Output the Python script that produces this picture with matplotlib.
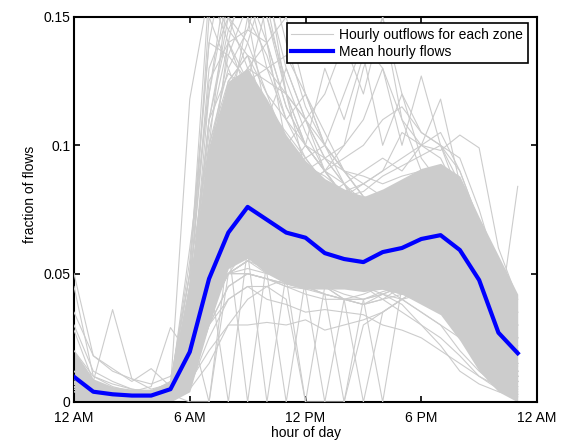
import matplotlib
matplotlib.use('Agg')
import matplotlib.pyplot as plt

plt.rcParams['font.family'] = ['Liberation Sans', 'DejaVu Sans']
plt.rcParams['font.size'] = 10

hours = list(range(24))
tick_hours = [0, 6, 12, 18, 24]
tick_labels = ['12 AM', '6 AM', '12 PM', '6 PM', '12 AM']

# mean hourly flows (blue line)
mean_flow = [0.0098, 0.004, 0.003, 0.0025, 0.0025, 0.005, 0.0195, 0.048,
             0.066, 0.076, 0.071, 0.066, 0.064, 0.058, 0.0557, 0.0545,
             0.0584, 0.060, 0.0635, 0.065, 0.0592, 0.0475, 0.027, 0.019]

# dense part of the grey bundle (hundreds of zones overlapping)
band_low = [0.0, 0.0, 0.0, 0.0, 0.0, 0.0, 0.004, 0.03, 0.052, 0.056, 0.05, 0.046,
            0.044, 0.044, 0.044, 0.043, 0.044, 0.042, 0.038, 0.034, 0.024, 0.012, 0.004, 0.0]
band_high = [0.02, 0.009, 0.006, 0.005, 0.005, 0.008, 0.048, 0.10, 0.125, 0.13, 0.118, 0.104,
             0.094, 0.087, 0.083, 0.08, 0.083, 0.087, 0.091, 0.093, 0.088, 0.072, 0.057, 0.042]

# individual zones that stand out of the bundle
zone_flows = [
    [0.008, 0.004, 0.003, 0.002, 0.002, 0.006, 0.035, 0.12, 0.17, 0.15, 0.11, 0.09, 0.08, 0.07, 0.06, 0.055, 0.05, 0.05, 0.045, 0.04, 0.03, 0.02, 0.012, 0.008],
    [0.012, 0.005, 0.003, 0.003, 0.003, 0.008, 0.05, 0.10, 0.16, 0.19, 0.14, 0.10, 0.085, 0.07, 0.065, 0.06, 0.055, 0.05, 0.045, 0.035, 0.028, 0.02, 0.012, 0.01],
    [0.006, 0.003, 0.002, 0.002, 0.002, 0.004, 0.02, 0.07, 0.12, 0.14, 0.165, 0.12, 0.09, 0.075, 0.07, 0.06, 0.05, 0.045, 0.04, 0.035, 0.025, 0.015, 0.01, 0.006],
    [0.01, 0.004, 0.003, 0.002, 0.002, 0.006, 0.04, 0.15, 0.13, 0.11, 0.1, 0.095, 0.08, 0.075, 0.065, 0.06, 0.055, 0.05, 0.04, 0.035, 0.03, 0.02, 0.015, 0.01],
    [0.008, 0.003, 0.002, 0.002, 0.002, 0.005, 0.118, 0.16, 0.14, 0.12, 0.105, 0.09, 0.08, 0.07, 0.06, 0.05, 0.045, 0.04, 0.035, 0.03, 0.025, 0.02, 0.012, 0.008],
    [0.009, 0.004, 0.003, 0.002, 0.003, 0.006, 0.03, 0.09, 0.125, 0.135, 0.11, 0.13, 0.11, 0.09, 0.08, 0.07, 0.06, 0.055, 0.05, 0.04, 0.03, 0.022, 0.014, 0.01],
    [0.007, 0.003, 0.002, 0.002, 0.002, 0.004, 0.025, 0.08, 0.11, 0.15, 0.135, 0.11, 0.12, 0.10, 0.085, 0.07, 0.065, 0.06, 0.05, 0.045, 0.035, 0.025, 0.015, 0.01],
    [0.01, 0.005, 0.003, 0.003, 0.003, 0.007, 0.03, 0.085, 0.14, 0.125, 0.155, 0.12, 0.1, 0.09, 0.085, 0.075, 0.065, 0.06, 0.055, 0.05, 0.04, 0.03, 0.02, 0.012],
    [0.009, 0.004, 0.003, 0.002, 0.002, 0.005, 0.045, 0.13, 0.15, 0.14, 0.12, 0.1, 0.09, 0.08, 0.07, 0.065, 0.06, 0.058, 0.055, 0.05, 0.04, 0.03, 0.02, 0.012],
    [0.007, 0.003, 0.002, 0.002, 0.002, 0.005, 0.04, 0.11, 0.145, 0.16, 0.13, 0.11, 0.095, 0.085, 0.075, 0.07, 0.065, 0.06, 0.055, 0.05, 0.04, 0.03, 0.018, 0.01],
    [0.008, 0.004, 0.003, 0.002, 0.002, 0.005, 0.035, 0.1, 0.13, 0.145, 0.14, 0.115, 0.1, 0.09, 0.08, 0.075, 0.07, 0.065, 0.06, 0.055, 0.045, 0.035, 0.02, 0.012],
    [0.01, 0.005, 0.003, 0.002, 0.002, 0.006, 0.05, 0.14, 0.135, 0.125, 0.115, 0.105, 0.095, 0.085, 0.078, 0.072, 0.068, 0.065, 0.06, 0.055, 0.045, 0.035, 0.022, 0.014],
    [0.006, 0.003, 0.002, 0.002, 0.002, 0.004, 0.03, 0.095, 0.135, 0.155, 0.15, 0.125, 0.105, 0.09, 0.08, 0.07, 0.065, 0.06, 0.05, 0.045, 0.035, 0.025, 0.015, 0.008],
    [0.008, 0.004, 0.002, 0.002, 0.002, 0.005, 0.03, 0.085, 0.12, 0.13, 0.125, 0.12, 0.11, 0.1, 0.09, 0.085, 0.08, 0.075, 0.07, 0.065, 0.05, 0.04, 0.025, 0.015],
    [0.009, 0.004, 0.003, 0.002, 0.002, 0.005, 0.04, 0.11, 0.128, 0.122, 0.11, 0.1, 0.092, 0.088, 0.082, 0.08, 0.078, 0.08, 0.082, 0.08, 0.07, 0.055, 0.035, 0.02],
    [0.007, 0.003, 0.002, 0.002, 0.002, 0.005, 0.06, 0.12, 0.16, 0.17, 0.15, 0.12, 0.1, 0.09, 0.08, 0.07, 0.06, 0.055, 0.05, 0.045, 0.035, 0.025, 0.015, 0.008],
    [0.008, 0.004, 0.002, 0.002, 0.002, 0.005, 0.025, 0.08, 0.11, 0.125, 0.13, 0.135, 0.12, 0.105, 0.09, 0.08, 0.075, 0.07, 0.065, 0.06, 0.05, 0.04, 0.025, 0.015],
    [0.01, 0.005, 0.003, 0.002, 0.002, 0.006, 0.035, 0.1, 0.125, 0.135, 0.12, 0.11, 0.1, 0.095, 0.09, 0.088, 0.085, 0.088, 0.09, 0.092, 0.08, 0.065, 0.045, 0.03],
    [0.009, 0.004, 0.003, 0.002, 0.002, 0.006, 0.055, 0.14, 0.18, 0.16, 0.14, 0.115, 0.1, 0.09, 0.08, 0.072, 0.065, 0.06, 0.055, 0.05, 0.04, 0.03, 0.018, 0.01],
    [0.008, 0.004, 0.002, 0.002, 0.002, 0.005, 0.045, 0.125, 0.14, 0.175, 0.16, 0.13, 0.11, 0.095, 0.085, 0.075, 0.07, 0.065, 0.06, 0.05, 0.04, 0.03, 0.018, 0.01],
    [0.007, 0.003, 0.002, 0.002, 0.002, 0.005, 0.04, 0.105, 0.14, 0.145, 0.17, 0.14, 0.115, 0.1, 0.09, 0.08, 0.07, 0.065, 0.06, 0.05, 0.04, 0.03, 0.018, 0.01],
    [0.009, 0.004, 0.003, 0.002, 0.002, 0.005, 0.035, 0.11, 0.15, 0.13, 0.14, 0.15, 0.12, 0.1, 0.09, 0.08, 0.075, 0.07, 0.065, 0.058, 0.045, 0.035, 0.02, 0.012],
    [0.01, 0.005, 0.003, 0.002, 0.002, 0.006, 0.05, 0.16, 0.145, 0.135, 0.13, 0.12, 0.11, 0.095, 0.085, 0.078, 0.07, 0.065, 0.06, 0.055, 0.045, 0.035, 0.02, 0.012],
    [0.01, 0.005, 0.003, 0.002, 0.002, 0.005, 0.02, 0.06, 0.08, 0.09, 0.095, 0.1, 0.11, 0.12, 0.14, 0.12, 0.15, 0.11, 0.09, 0.08, 0.06, 0.04, 0.025, 0.015],
    [0.008, 0.004, 0.002, 0.002, 0.002, 0.004, 0.02, 0.05, 0.07, 0.08, 0.085, 0.09, 0.1, 0.13, 0.11, 0.135, 0.1, 0.12, 0.095, 0.085, 0.07, 0.05, 0.03, 0.02],
    [0.006, 0.003, 0.002, 0.002, 0.002, 0.004, 0.015, 0.045, 0.06, 0.07, 0.075, 0.08, 0.085, 0.09, 0.1, 0.11, 0.13, 0.1, 0.127, 0.1, 0.08, 0.06, 0.035, 0.02],
    [0.008, 0.003, 0.002, 0.002, 0.002, 0.004, 0.015, 0.04, 0.055, 0.065, 0.07, 0.072, 0.075, 0.08, 0.085, 0.09, 0.095, 0.09, 0.1, 0.118, 0.085, 0.06, 0.04, 0.025],
    [0.009, 0.004, 0.003, 0.002, 0.002, 0.004, 0.015, 0.04, 0.05, 0.06, 0.065, 0.07, 0.072, 0.075, 0.08, 0.085, 0.09, 0.105, 0.1, 0.098, 0.104, 0.099, 0.06, 0.04],
    [0.01, 0.005, 0.003, 0.003, 0.003, 0.005, 0.015, 0.035, 0.05, 0.055, 0.06, 0.062, 0.065, 0.068, 0.07, 0.075, 0.08, 0.085, 0.09, 0.085, 0.07, 0.06, 0.03, 0.084],
    [0.012, 0.006, 0.004, 0.003, 0.003, 0.005, 0.018, 0.04, 0.05, 0.055, 0.058, 0.06, 0.062, 0.065, 0.068, 0.07, 0.072, 0.075, 0.08, 0.075, 0.065, 0.055, 0.052, 0.035],
    [0.008, 0.004, 0.002, 0.002, 0.002, 0.004, 0.018, 0.05, 0.07, 0.08, 0.085, 0.09, 0.095, 0.1, 0.12, 0.14, 0.13, 0.11, 0.1, 0.095, 0.08, 0.06, 0.04, 0.025],
    [0.007, 0.003, 0.002, 0.002, 0.002, 0.004, 0.016, 0.045, 0.065, 0.075, 0.08, 0.085, 0.09, 0.095, 0.1, 0.13, 0.15, 0.12, 0.105, 0.1, 0.085, 0.065, 0.04, 0.025],
    [0.009, 0.004, 0.003, 0.002, 0.002, 0.005, 0.02, 0.05, 0.065, 0.07, 0.072, 0.075, 0.078, 0.08, 0.082, 0.085, 0.09, 0.095, 0.1, 0.105, 0.09, 0.07, 0.045, 0.03],
    [0.008, 0.004, 0.002, 0.002, 0.002, 0.004, 0.016, 0.045, 0.06, 0.068, 0.07, 0.072, 0.075, 0.078, 0.08, 0.082, 0.088, 0.092, 0.096, 0.1, 0.095, 0.075, 0.05, 0.035],
    [0.006, 0.003, 0.002, 0.002, 0.002, 0.004, 0.015, 0.04, 0.06, 0.07, 0.075, 0.08, 0.085, 0.09, 0.095, 0.1, 0.11, 0.115, 0.105, 0.1, 0.09, 0.07, 0.045, 0.03],
    [0.05, 0.018, 0.012, 0.009, 0.007, 0.01, 0.025, 0.05, 0.06, 0.065, 0.06, 0.058, 0.055, 0.05, 0.05, 0.048, 0.05, 0.052, 0.055, 0.05, 0.045, 0.035, 0.025, 0.02],
    [0.045, 0.01, 0.007, 0.005, 0.004, 0.008, 0.022, 0.055, 0.07, 0.07, 0.065, 0.06, 0.055, 0.05, 0.05, 0.05, 0.055, 0.06, 0.062, 0.06, 0.05, 0.04, 0.03, 0.025],
    [0.028, 0.008, 0.036, 0.009, 0.005, 0.007, 0.02, 0.04, 0.06, 0.065, 0.06, 0.055, 0.05, 0.045, 0.045, 0.05, 0.055, 0.06, 0.062, 0.06, 0.055, 0.045, 0.03, 0.02],
    [0.035, 0.018, 0.013, 0.008, 0.013, 0.006, 0.018, 0.045, 0.06, 0.07, 0.065, 0.06, 0.055, 0.05, 0.05, 0.05, 0.055, 0.058, 0.06, 0.058, 0.05, 0.04, 0.03, 0.022],
    [0.02, 0.01, 0.006, 0.004, 0.006, 0.029, 0.018, 0.05, 0.065, 0.07, 0.065, 0.06, 0.058, 0.055, 0.05, 0.05, 0.052, 0.055, 0.06, 0.06, 0.055, 0.045, 0.03, 0.02],
    [0.03, 0.012, 0.008, 0.005, 0.004, 0.004, 0.008, 0.03, 0.055, 0.06, 0.06, 0.058, 0.055, 0.05, 0.05, 0.05, 0.052, 0.055, 0.058, 0.055, 0.05, 0.04, 0.03, 0.02],
    [0.01, 0.005, 0.003, 0.002, 0.002, 0.005, 0.03, 0.0, 0.06, 0.07, 0.065, 0.06, 0.058, 0.055, 0.052, 0.05, 0.05, 0.052, 0.055, 0.05, 0.045, 0.035, 0.02, 0.015],
    [0.008, 0.004, 0.002, 0.002, 0.002, 0.004, 0.02, 0.05, 0.0, 0.06, 0.06, 0.055, 0.05, 0.048, 0.045, 0.045, 0.05, 0.052, 0.055, 0.05, 0.045, 0.03, 0.02, 0.012],
    [0.006, 0.003, 0.002, 0.001, 0.001, 0.003, 0.015, 0.045, 0.06, 0.0, 0.055, 0.05, 0.048, 0.045, 0.04, 0.042, 0.045, 0.05, 0.052, 0.048, 0.04, 0.03, 0.018, 0.01],
    [0.007, 0.003, 0.002, 0.002, 0.002, 0.003, 0.012, 0.04, 0.055, 0.058, 0.0, 0.05, 0.045, 0.042, 0.04, 0.04, 0.043, 0.045, 0.048, 0.045, 0.04, 0.03, 0.018, 0.01],
    [0.006, 0.003, 0.002, 0.001, 0.001, 0.003, 0.012, 0.035, 0.05, 0.055, 0.05, 0.0, 0.048, 0.045, 0.04, 0.038, 0.04, 0.045, 0.048, 0.045, 0.038, 0.028, 0.016, 0.01],
    [0.008, 0.004, 0.002, 0.002, 0.002, 0.004, 0.015, 0.04, 0.05, 0.052, 0.05, 0.048, 0.0, 0.045, 0.042, 0.04, 0.042, 0.045, 0.05, 0.046, 0.04, 0.03, 0.02, 0.012],
    [0.006, 0.003, 0.002, 0.002, 0.002, 0.003, 0.01, 0.03, 0.045, 0.05, 0.048, 0.045, 0.044, 0.0, 0.04, 0.038, 0.04, 0.042, 0.045, 0.042, 0.035, 0.025, 0.015, 0.008],
    [0.007, 0.003, 0.002, 0.002, 0.002, 0.003, 0.012, 0.035, 0.05, 0.05, 0.048, 0.046, 0.045, 0.042, 0.0, 0.04, 0.042, 0.045, 0.048, 0.044, 0.038, 0.028, 0.016, 0.01],
    [0.006, 0.003, 0.002, 0.002, 0.001, 0.003, 0.01, 0.03, 0.045, 0.05, 0.048, 0.045, 0.042, 0.04, 0.04, 0.0, 0.035, 0.04, 0.045, 0.04, 0.035, 0.025, 0.015, 0.008],
    [0.005, 0.002, 0.001, 0.001, 0.001, 0.002, 0.008, 0.03, 0.04, 0.045, 0.045, 0.04, 0.0, 0.0, 0.0, 0.03, 0.035, 0.04, 0.042, 0.04, 0.032, 0.022, 0.012, 0.006],
    [0.006, 0.003, 0.002, 0.002, 0.002, 0.003, 0.0, 0.0, 0.05, 0.05, 0.048, 0.046, 0.044, 0.042, 0.04, 0.04, 0.0, 0.045, 0.045, 0.042, 0.035, 0.025, 0.015, 0.008],
    [0.005, 0.002, 0.001, 0.001, 0.001, 0.002, 0.008, 0.02, 0.03, 0.03, 0.031, 0.03, 0.032, 0.028, 0.03, 0.032, 0.035, 0.04, 0.045, 0.042, 0.035, 0.025, 0.015, 0.008],
    [0.004, 0.002, 0.001, 0.001, 0.001, 0.002, 0.006, 0.025, 0.04, 0.045, 0.04, 0.038, 0.035, 0.036, 0.035, 0.034, 0.03, 0.028, 0.025, 0.02, 0.015, 0.01, 0.006, 0.004],
    [0.005, 0.002, 0.002, 0.001, 0.001, 0.003, 0.01, 0.035, 0.05, 0.055, 0.052, 0.05, 0.048, 0.045, 0.045, 0.045, 0.04, 0.035, 0.03, 0.022, 0.012, 0.007, 0.004, 0.002],
    [0.006, 0.003, 0.002, 0.001, 0.001, 0.003, 0.012, 0.04, 0.055, 0.06, 0.058, 0.055, 0.05, 0.05, 0.048, 0.045, 0.042, 0.038, 0.03, 0.025, 0.018, 0.01, 0.005, 0.003],
    [0.004, 0.002, 0.001, 0.001, 0.001, 0.002, 0.005, 0.015, 0.03, 0.04, 0.045, 0.048, 0.045, 0.042, 0.04, 0.038, 0.042, 0.04, 0.035, 0.03, 0.02, 0.012, 0.006, 0.003],
    [0.007, 0.003, 0.002, 0.002, 0.002, 0.004, 0.015, 0.045, 0.058, 0.06, 0.055, 0.052, 0.05, 0.048, 0.046, 0.045, 0.044, 0.042, 0.04, 0.035, 0.028, 0.02, 0.01, 0.005],
]

grey = '#cccccc'

fig = plt.figure(figsize=(5.71, 4.40), dpi=100)
ax = fig.add_axes([0.1296, 0.0864, 0.8109, 0.875])

ax.fill_between(hours, band_low, band_high, color=grey, lw=0, zorder=2)
for i, z in enumerate(zone_flows):
    ax.plot(hours, z, color=grey, lw=0.8, zorder=3,
            label='Hourly outflows for each zone' if i == 0 else None)
ax.plot(hours, mean_flow, color='#0000ff', lw=3, zorder=4, label='Mean hourly flows')

ax.set_xlim(0, 24)
ax.set_ylim(0, 0.15)
ax.set_xticks(tick_hours)
ax.set_xticklabels(tick_labels)
ax.set_yticks([0, 0.05, 0.1, 0.15])
ax.set_yticklabels(['0', '0.05', '0.1', '0.15'])
ax.tick_params(direction='in', length=4.5, width=1.2, top=True, right=True, pad=2.5)
ax.tick_params(axis='x', pad=6.5)
for s in ax.spines.values():
    s.set_linewidth(1.5)

ax.set_xlabel('hour of day', labelpad=0.5)
ax.set_ylabel('fraction of flows')
ax.yaxis.set_label_coords(-0.08, 0.538)

leg = ax.legend(loc='upper right', bbox_to_anchor=(0.9806, 0.9844), borderaxespad=0,
                fancybox=False, framealpha=1, edgecolor='black', handlelength=3.0,
                handletextpad=0.45, labelspacing=0.2, borderpad=0.35)
leg.get_frame().set_linewidth(1.2)

fig.savefig('out.png', dpi=100)
